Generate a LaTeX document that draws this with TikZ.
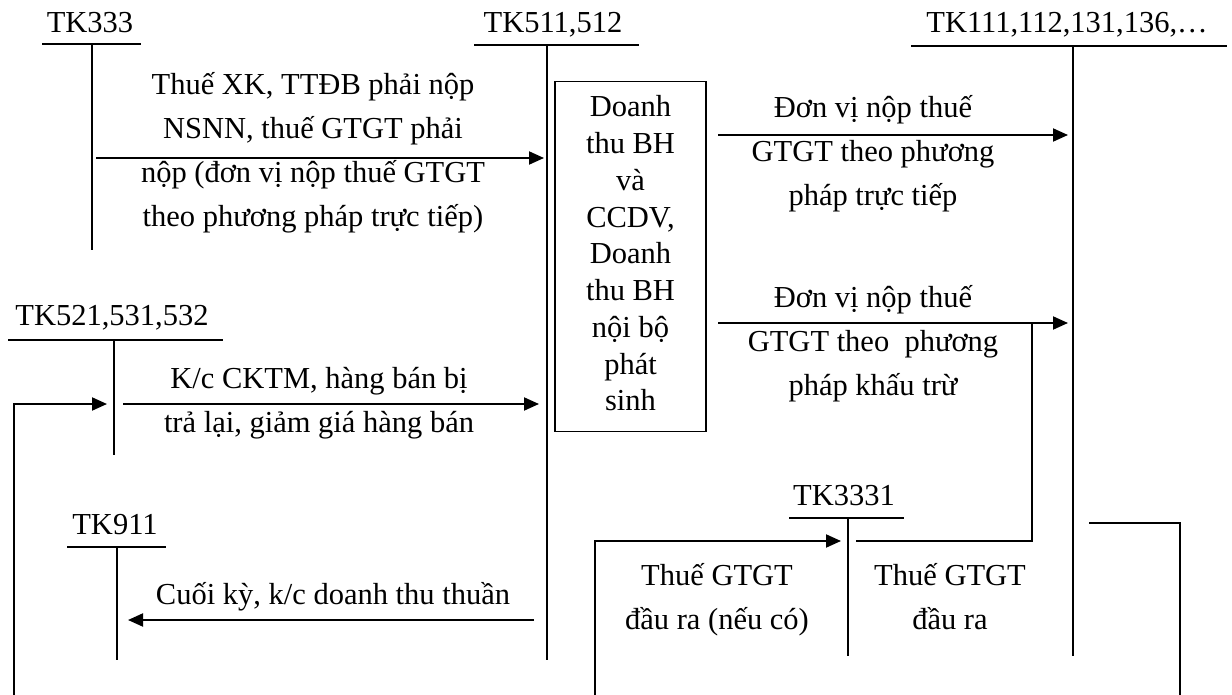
\documentclass[tikz,border=0pt]{standalone}
\usepackage{fontspec}
\setmainfont{Liberation Serif}
\usetikzlibrary{arrows.meta}
\begin{document}
\begin{tikzpicture}[x=1pt,y=-1pt,
  txt/.style={font=\fontsize{30.5}{44}\selectfont, inner sep=0pt, align=center},
  acc/.style={line width=1.6pt},
  ln/.style={line width=2pt},
  arr/.style={line width=2pt, -{Triangle[length=15pt,width=13pt]}}]
\useasboundingbox (0,0) rectangle (1232,695);

% ---- account titles
\node[txt, anchor=base] (t333)  at (90,33)   {TK333};
\node[txt, anchor=base] (t511)  at (553,33)  {TK511,512};
\node[txt, anchor=base] (t111)  at (1067,33) {TK111,112,131,136,…};
\node[txt, anchor=base] (t521)  at (112,325) {TK521,531,532};
\node[txt, anchor=base] (t911)  at (115,534) {TK911};
\node[txt, anchor=base] (t3331) at (844,505) {TK3331};

% ---- T-account coordinates
\coordinate (u333l) at (42,44);   \coordinate (u333r) at (141,44);
\coordinate (v333t) at (92,44);   \coordinate (v333b) at (92,250);
\coordinate (u511l) at (474,45);  \coordinate (u511r) at (639,45);
\coordinate (v511t) at (547,45);  \coordinate (v511b) at (547,660);
\coordinate (u111l) at (911,46);  \coordinate (u111r) at (1227,46);
\coordinate (v111t) at (1073,46); \coordinate (v111b) at (1073,656);
\coordinate (u521l) at (8,340);   \coordinate (u521r) at (223,340);
\coordinate (v521t) at (114,340); \coordinate (v521b) at (114,455);
\coordinate (u911l) at (67,547);  \coordinate (u911r) at (166,547);
\coordinate (v911t) at (117,547); \coordinate (v911b) at (117,660);
\coordinate (u3331l) at (789,518); \coordinate (u3331r) at (904,518);
\coordinate (v3331t) at (848,518); \coordinate (v3331b) at (848,656);

\foreach \a in {333,511,111,521,911,3331}{
  \draw[acc] (u\a l) -- (u\a r);
  \draw[acc] (v\a t) -- (v\a b);
}

% ---- central box
\node[draw, line width=1.8pt, minimum width=151pt, minimum height=350pt,
      inner sep=0pt, align=center, font=\fontsize{30.5}{36.75}\selectfont]
  (box) at (630.5,256.5)
  {\strut Doanh\\ \strut thu BH\\ \strut và\\ \strut CCDV,\\ \strut Doanh\\
   \strut thu BH\\ \strut nội bộ\\ \strut phát\\ \strut sinh};

% ---- labels
\node[txt] (l1) at (313,152.2) {\strut Thuế XK, TTĐB phải nộp\\ \strut NSNN, thuế GTGT phải\\
  \strut nộp (đơn vị nộp thuế GTGT\\ \strut theo phương pháp trực tiếp)};
\node[txt] (l2) at (873,153.2) {\strut Đơn vị nộp thuế\\ \strut GTGT theo phương\\ \strut pháp trực tiếp};
\node[txt] (l3) at (873,342.2) {\strut Đơn vị nộp thuế\\ \strut GTGT theo\ \ phương\\ \strut pháp khấu trừ};
\node[txt] (l4) at (319,401.2) {\strut K/c CKTM, hàng bán bị\\ \strut trả lại, giảm giá hàng bán};
\node[txt, anchor=base] (l5) at (333,604) {Cuối kỳ, k/c doanh thu thuần};
\node[txt] (l6) at (717,598.7) {\strut Thuế GTGT\\ \strut đầu ra (nếu có)};
\node[txt] (l7) at (950,598.2) {\strut Thuế GTGT\\ \strut đầu ra};

% ---- connector coordinates
\coordinate (a1s) at (96,158);   \coordinate (a1e) at (544,158);
\coordinate (a2s) at (718,135);  \coordinate (a2e) at (1068,135);
\coordinate (a3s) at (718,323);  \coordinate (a3e) at (1068,323);
\coordinate (b1s) at (1032,323); \coordinate (b1m) at (1032,541); \coordinate (b1e) at (856,541);
\coordinate (a4s) at (595,695);  \coordinate (a4m) at (595,541);  \coordinate (a4e) at (841,541);
\coordinate (r1s) at (1089,523); \coordinate (r1m) at (1180,523); \coordinate (r1e) at (1180,695);
\coordinate (a5s) at (14,695);   \coordinate (a5m) at (14,404);   \coordinate (a5e) at (107,404);
\coordinate (a6s) at (123,404);  \coordinate (a6e) at (539,404);
\coordinate (a7s) at (534,620);  \coordinate (a7e) at (128,620);

% ---- connectors
\draw[arr] (a1s) -- (a1e);
\draw[arr] (a2s) -- (a2e);
\draw[arr] (a3s) -- (a3e);
\draw[ln]  (b1s) -- (b1m) -- (b1e);
\draw[arr] (a4s) -- (a4m) -- (a4e);
\draw[ln]  (r1s) -- (r1m) -- (r1e);
\draw[arr] (a5s) -- (a5m) -- (a5e);
\draw[arr] (a6s) -- (a6e);
\draw[arr] (a7s) -- (a7e);
\end{tikzpicture}
\end{document}
